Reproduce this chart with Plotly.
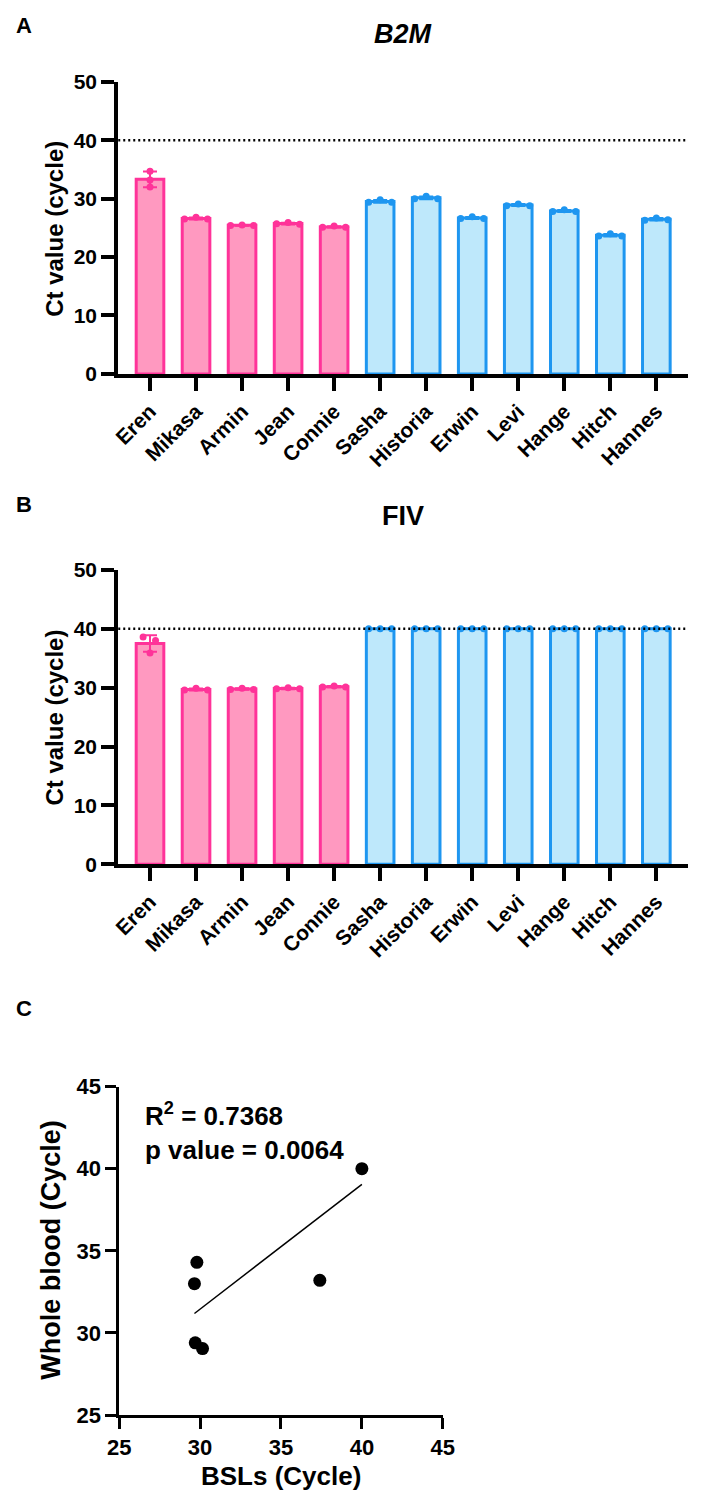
import numpy as np
import plotly.graph_objects as go

W, H = 703, 1508

# ---------------- data ----------------
names = ["Eren", "Mikasa", "Armin", "Jean", "Connie", "Sasha", "Historia",
         "Erwin", "Levi", "Hange", "Hitch", "Hannes"]
n_pos = 5  # first five animals (pink), rest (blue)

b2m_reps = [
    [34.7, 33.2, 32.0],
    [26.5, 26.8, 26.5],
    [25.4, 25.5, 25.4],
    [25.7, 25.9, 25.6],
    [25.1, 25.3, 25.1],
    [29.4, 29.8, 29.4],
    [30.0, 30.4, 30.0],
    [26.6, 26.9, 26.6],
    [28.8, 29.1, 28.8],
    [27.8, 28.1, 27.8],
    [23.6, 24.0, 23.6],
    [26.3, 26.7, 26.4],
]
fiv_reps = [
    [38.6, 35.9, 38.0],
    [29.6, 29.9, 29.6],
    [29.7, 29.9, 29.7],
    [29.8, 30.0, 29.8],
    [30.1, 30.3, 30.1],
    [40.0, 40.0, 40.0],
    [40.0, 40.0, 40.0],
    [40.0, 40.0, 40.0],
    [40.0, 40.0, 40.0],
    [40.0, 40.0, 40.0],
    [40.0, 40.0, 40.0],
    [40.0, 40.0, 40.0],
]
b2m_jitter = [[0.0, 0.0, 0.0]] + [[-0.25, 0.0, 0.25]] * 11
fiv_jitter = [[-0.15, 0.0, 0.12]] + [[-0.25, 0.0, 0.25]] * 11

cutoff = 40

bsl_x = [40.0, 37.4, 29.8, 29.65, 29.7, 30.15]
blood_y = [40.0, 33.2, 34.3, 33.0, 29.4, 29.05]
fit_slope = 0.76
fit_intercept = 8.65
r2_value = "0.7368"
p_value = "0.0064"

# ---------------- style ----------------
PINK_FILL, PINK_LINE = "#FF99C0", "#FF3399"
BLUE_FILL, BLUE_LINE = "#BEE8FB", "#1E96F0"
FONT = "Liberation Sans, Arial, Helvetica, sans-serif"


def px(x):
    return x / W


def py(y):
    return 1 - y / H


fig = go.Figure()


def add_bar_panel(reps, jitter, xa, ya):
    reps = np.array(reps, dtype=float)
    means = reps.mean(axis=1)
    sds = reps.std(axis=1, ddof=1)
    idx = np.arange(len(names))
    groups = [(slice(0, n_pos), PINK_FILL, PINK_LINE),
              (slice(n_pos, len(names)), BLUE_FILL, BLUE_LINE)]
    for sl, fill, line in groups:
        fig.add_trace(go.Bar(
            x=idx[sl], y=means[sl], width=0.6,
            marker=dict(color=fill, line=dict(color=line, width=3)),
            error_y=dict(type="data", array=sds[sl], color=line,
                         thickness=2, width=7),
            xaxis=xa, yaxis=ya, showlegend=False, hoverinfo="skip"))
    for sl, fill, line in groups:
        xs, ys = [], []
        for i in idx[sl]:
            for j in range(reps.shape[1]):
                xs.append(i + jitter[i][j])
                ys.append(reps[i][j])
        fig.add_trace(go.Scatter(
            x=xs, y=ys, mode="markers",
            marker=dict(color=line, size=7),
            xaxis=xa, yaxis=ya, showlegend=False, hoverinfo="skip"))


add_bar_panel(b2m_reps, b2m_jitter, "x", "y")
add_bar_panel(fiv_reps, fiv_jitter, "x2", "y2")

# panel C scatter + fit
fig.add_trace(go.Scatter(
    x=bsl_x, y=blood_y, mode="markers",
    marker=dict(color="black", size=13),
    xaxis="x3", yaxis="y3", showlegend=False, hoverinfo="skip"))
fx = np.array([min(bsl_x), max(bsl_x)])
fig.add_trace(go.Scatter(
    x=fx, y=fit_slope * fx + fit_intercept, mode="lines",
    line=dict(color="black", width=1.5),
    xaxis="x3", yaxis="y3", showlegend=False, hoverinfo="skip"))

bar_x = dict(range=[-0.69, 11.69], tickmode="array",
             tickvals=list(range(len(names))), ticktext=names,
             tickangle=-45, ticks="outside", ticklen=13, tickwidth=4,
             tickcolor="black", showline=True, linewidth=4,
             linecolor="black", showgrid=False, zeroline=False,
             tickfont=dict(family=FONT, size=21, color="black", weight="bold"))
bar_y = dict(range=[0, 50], dtick=10, ticks="outside", ticklen=13,
             tickwidth=4, tickcolor="black", showline=True, linewidth=4,
             linecolor="black", showgrid=False, zeroline=False,
             tickfont=dict(family=FONT, size=21, color="black", weight="bold"))
sc_ax = dict(range=[25, 45], dtick=5, ticks="outside", ticklen=11,
             tickwidth=2.5, tickcolor="black", showline=True, linewidth=2.5,
             linecolor="black", showgrid=False, zeroline=False,
             tickfont=dict(family=FONT, size=22, color="black", weight="bold"))

fig.update_layout(
    width=W, height=H,
    margin=dict(l=0, r=0, t=0, b=0),
    paper_bgcolor="white", plot_bgcolor="white",
    font=dict(family=FONT, color="black"),
    bargap=0.4,
    xaxis=dict(domain=[px(110), px(700)], anchor="y", **bar_x),
    yaxis=dict(domain=[py(368), py(71)], anchor="x", **bar_y),
    xaxis2=dict(domain=[px(110), px(700)], anchor="y2", **bar_x),
    yaxis2=dict(domain=[py(866.7), py(567.3)], anchor="x2", **bar_y),
    xaxis3=dict(domain=[px(111), px(446)], anchor="y3", **sc_ax),
    yaxis3=dict(domain=[py(1426.7), py(1092.7)], anchor="x3", **sc_ax),
)

for xr, yr in [("x domain", "y"), ("x2 domain", "y2")]:
    fig.add_shape(type="line", xref=xr, yref=yr, x0=0, x1=1,
                  y0=cutoff, y1=cutoff,
                  line=dict(color="black", width=2.5, dash="2px,3px"))

ann = []


def text(x, y, t, size, xanchor="center", yanchor="middle", angle=0,
         align="center"):
    ann.append(dict(x=px(x), y=py(y), xref="paper", yref="paper", text=t,
                    showarrow=False, xanchor=xanchor, yanchor=yanchor,
                    textangle=angle, align=align,
                    font=dict(family=FONT, size=size, color="black",
                              weight="bold")))


text(2, 14, "A", 22, xanchor="left")
text(2, 501, "B", 22, xanchor="left")
text(2, 1013, "C", 22, xanchor="left")
text(405, 22, "<i>B2M</i>", 27)
text(405, 513, "FIV", 27)
text(44, 220, "Ct value (cycle)", 24, angle=-90)
text(44, 717, "Ct value (cycle)", 24, angle=-90)
text(40, 1259, "Whole blood (Cycle)", 27, angle=-90)
text(279, 1489, "BSLs (Cycle)", 26)
text(136, 1102, "R<sup>2</sup> = " + r2_value + "<br>p value = " + p_value,
     26, xanchor="left", yanchor="top", align="left")
fig.update_layout(annotations=ann)

fig.write_html("out.html")
